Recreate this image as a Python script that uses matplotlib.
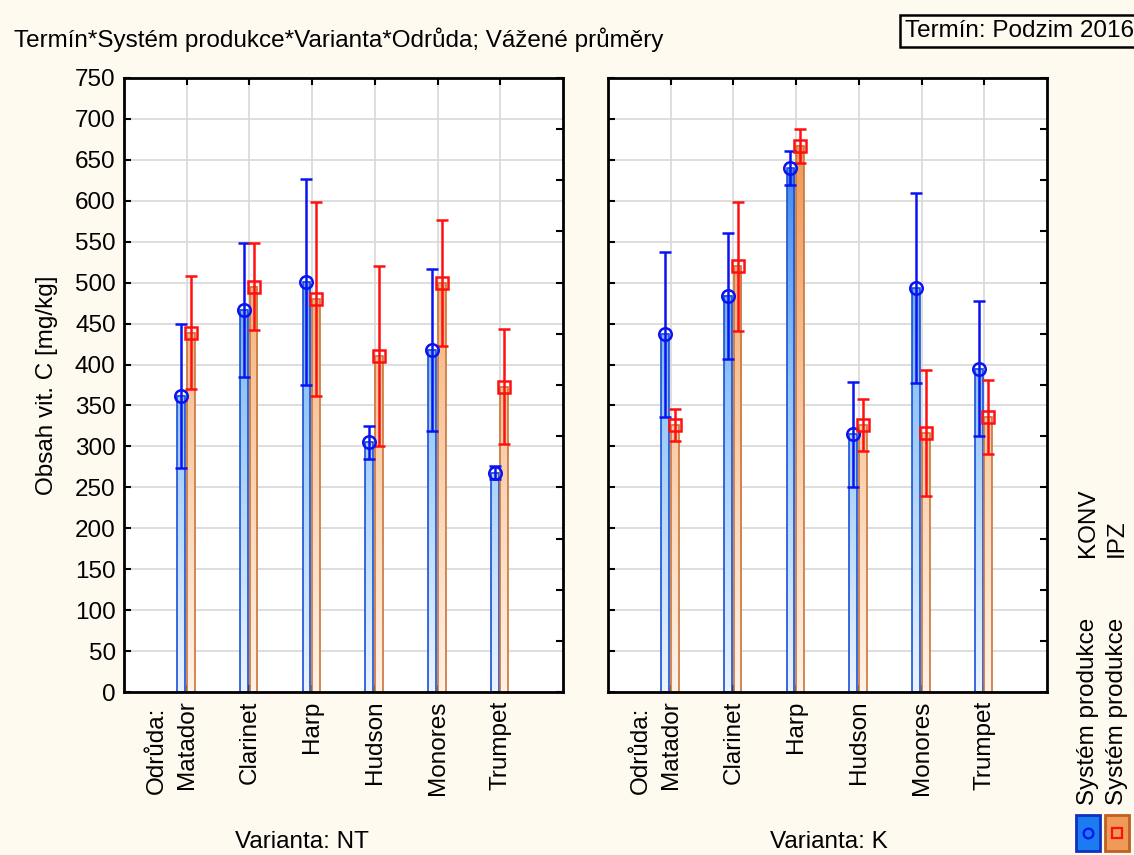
import numpy as np
import matplotlib
matplotlib.use("Agg")
import matplotlib.pyplot as plt
from matplotlib.colors import LinearSegmentedColormap
from matplotlib.patches import Rectangle

plt.rcParams['font.family'] = ['Liberation Sans', 'DejaVu Sans']

odrudy = ["Matador", "Clarinet", "Harp", "Hudson", "Monores", "Trumpet"]
varianty = ["NT", "K"]

# weighted means and error half-widths, per variant, per cultivar
konv_mean = {"NT": [362, 467, 501, 305, 418, 268],
             "K":  [437, 484, 640, 315, 493, 395]}
konv_err = {"NT": [88, 82, 126, 20, 99, 8],
            "K":  [101, 77, 21, 64, 116, 82]}
ipz_mean = {"NT": [439, 495, 480, 410, 500, 373],
            "K":  [326, 520, 667, 326, 316, 336]}
ipz_err = {"NT": [69, 53, 118, 110, 77, 70],
           "K":  [20, 79, 21, 32, 77, 45]}

yticks = np.arange(0, 751, 50)
BG = "#fffaf0"
FS = 17.5

blue_cmap = LinearSegmentedColormap.from_list("b", ["#eaf4ff", "#90c4f8", "#2474e4"])
orange_cmap = LinearSegmentedColormap.from_list("o", ["#fff2e6", "#f8c49a", "#ee8c44"])


def gradient_bar(ax, x, h, w, cmap, edge):
    x0, x1 = x - w / 2, x + w / 2
    grad = np.linspace(0, h, 200)[:, None] / 750.0
    ax.imshow(grad, extent=[x0, x1, 0, h], origin="lower", aspect="auto",
              cmap=cmap, vmin=0, vmax=1, zorder=2, interpolation="bilinear")
    ax.add_patch(Rectangle((x0, 0), w, h, fill=False, edgecolor=edge, lw=1.2, zorder=3))


fig = plt.figure(figsize=(11.34, 8.55), dpi=100, facecolor=BG)

lefts = [124 / 1134, 608 / 1134]
bottom = 1 - 692 / 855
height = (692 - 78) / 855
width = 439 / 1134

xs = np.arange(1, len(odrudy) + 1)
bw = 0.125
off_k, off_i = -0.09, 0.065

for k, var in enumerate(varianty):
    ax = fig.add_axes([lefts[k], bottom, width, height], facecolor="white")
    for i, x in enumerate(xs):
        gradient_bar(ax, x + off_k, konv_mean[var][i], bw, blue_cmap, "#1a4fd8")
        gradient_bar(ax, x + off_i, ipz_mean[var][i], bw, orange_cmap, "#c8763a")
    ax.errorbar(xs + off_k, konv_mean[var], yerr=konv_err[var], fmt="o", color="#0a14f0",
                mfc="none", mec="#0a14f0", ms=9, mew=1.8, elinewidth=1.8,
                capsize=4, capthick=1.8, zorder=5)
    ax.errorbar(xs + off_i, ipz_mean[var], yerr=ipz_err[var], fmt="s", color="#ff1010",
                mfc="none", mec="#ff1010", ms=9, mew=1.8, elinewidth=1.8,
                capsize=4, capthick=1.8, zorder=5)

    ax.set_xlim(0, 7)
    ax.set_ylim(0, 750)
    ax.set_yticks(yticks)
    ax.set_xticks(xs)
    ax.set_xticklabels(odrudy, rotation=90, va="top", fontsize=FS)
    ax.grid(True, color="#d8d8d8", lw=1.2, zorder=0)
    ax.set_axisbelow(True)
    ax.tick_params(direction="in", length=5, width=1.5, top=True, bottom=True,
                   labelsize=FS, pad=6)
    if k == 0:
        ax.set_ylabel("Obsah vit. C [mg/kg]", fontsize=FS, labelpad=12)
    else:
        ax.tick_params(labelleft=False)
    for s in ax.spines.values():
        s.set_linewidth(2)
        s.set_zorder(6)
    # finer tick scale on the right spine
    ax2 = ax.twinx()
    ax2.set_ylim(0, 750)
    ax2.set_yticks(np.arange(0, 751, 62.5))
    ax2.tick_params(direction="in", length=5, width=1.5, labelright=False)
    for s in ax2.spines.values():
        s.set_visible(False)

    ax.text(0.52, -18, "Odrůda:", rotation=90, ha="center", va="top", fontsize=FS)

fig.text(302 / 1134, 1 - 842 / 855, "Varianta: NT", ha="center", va="center", fontsize=FS)
fig.text(829 / 1134, 1 - 842 / 855, "Varianta: K", ha="center", va="center", fontsize=FS)

fig.text(14 / 1134, 1 - 40 / 855, "Termín*Systém produkce*Varianta*Odrůda; Vážené průměry",
         ha="left", va="center", fontsize=FS)
fig.text(905 / 1134, 1 - 31 / 855, "Termín: Podzim 2016", ha="left", va="center", fontsize=FS,
         bbox=dict(boxstyle="square,pad=0.2", fc=BG, ec="black", lw=1.8))

# legend drawn vertically in the bottom right corner
leg = [("#1a7cf0", "#1030c0", "o", "#0a14f0", "KONV", 1088),
       ("#f09a5a", "#c06020", "s", "#ff1010", "IPZ", 1117)]
for fc, ec, mk, mc, name, px in leg:
    fig.patches.append(Rectangle(((px - 12) / 1134, 1 - 851 / 855), 24 / 1134, 36 / 855,
                                 transform=fig.transFigure, fc=fc, ec=ec, lw=2))
    fig.lines.append(plt.Line2D([px / 1134], [1 - 833 / 855], transform=fig.transFigure,
                                marker=mk, ms=7, mfc="none", mec=mc, mew=1.6))
    fig.text(px / 1134, 1 - 805 / 855, "Systém produkce", rotation=90, ha="center",
             va="bottom", fontsize=FS)
    fig.text(px / 1134, 1 - 557 / 855, name, rotation=90, ha="center", va="bottom", fontsize=FS)

fig.savefig("out.png", dpi=100, facecolor=BG)
